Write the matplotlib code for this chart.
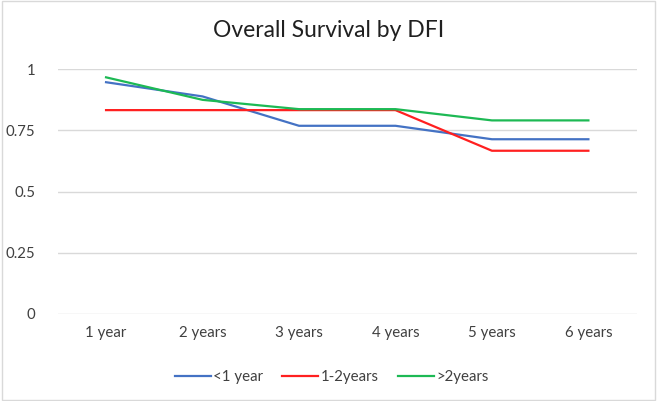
import matplotlib.pyplot as plt
from matplotlib.patches import Rectangle

plt.rcParams['font.family'] = ['Lato', 'DejaVu Sans']

years = ["1 year", "2 years", "3 years", "4 years", "5 years", "6 years"]
under_1 = [0.947, 0.889, 0.769, 0.769, 0.714, 0.714]
one_two = [0.833, 0.833, 0.833, 0.833, 0.667, 0.667]
over_2 = [0.967, 0.875, 0.837, 0.837, 0.791, 0.791]
yticks = [0, 0.25, 0.5, 0.75, 1]

fig = plt.figure(figsize=(6.57, 4.01), dpi=100)
ax = fig.add_axes([0.088, 0.217, 0.881, 0.6103])

x = range(len(years))
ax.plot(x, under_1, color="#4472C4", lw=1.6, label="<1 year")
ax.plot(x, one_two, color="#FF2020", lw=1.6, label="1-2years")
ax.plot(x, over_2, color="#1DB954", lw=1.6, label=">2years")

ax.set_xlim(-0.5, len(years) - 0.5)
ax.set_ylim(0, 1)
ax.set_yticks(yticks)
ax.set_yticklabels(["0", "0.25", "0.5", "0.75", "1"])
ax.set_xticks(list(x))
ax.set_xticklabels(years)
ax.grid(axis="y", color="#D9D9D9", lw=1)
ax.set_axisbelow(True)
for s in ax.spines.values():
    s.set_visible(False)
ax.tick_params(length=0, labelsize=10.8, colors="#404040", pad=9)
ax.tick_params(axis="y", pad=16)

fig.suptitle("Overall Survival by DFI", y=0.95, fontsize=16.5, color="#202020")

fig.legend(loc="center", bbox_to_anchor=(0.505, 0.06), ncol=3, frameon=False,
           fontsize=10.8, handlelength=2.4, handletextpad=0.15, columnspacing=1.3,
           labelcolor="#404040")

fig.patches.append(Rectangle((0.003, 0.003), 0.994, 0.994, transform=fig.transFigure,
                             fill=False, edgecolor="#D9D9D9", lw=1))

fig.savefig("out.png", dpi=100)
